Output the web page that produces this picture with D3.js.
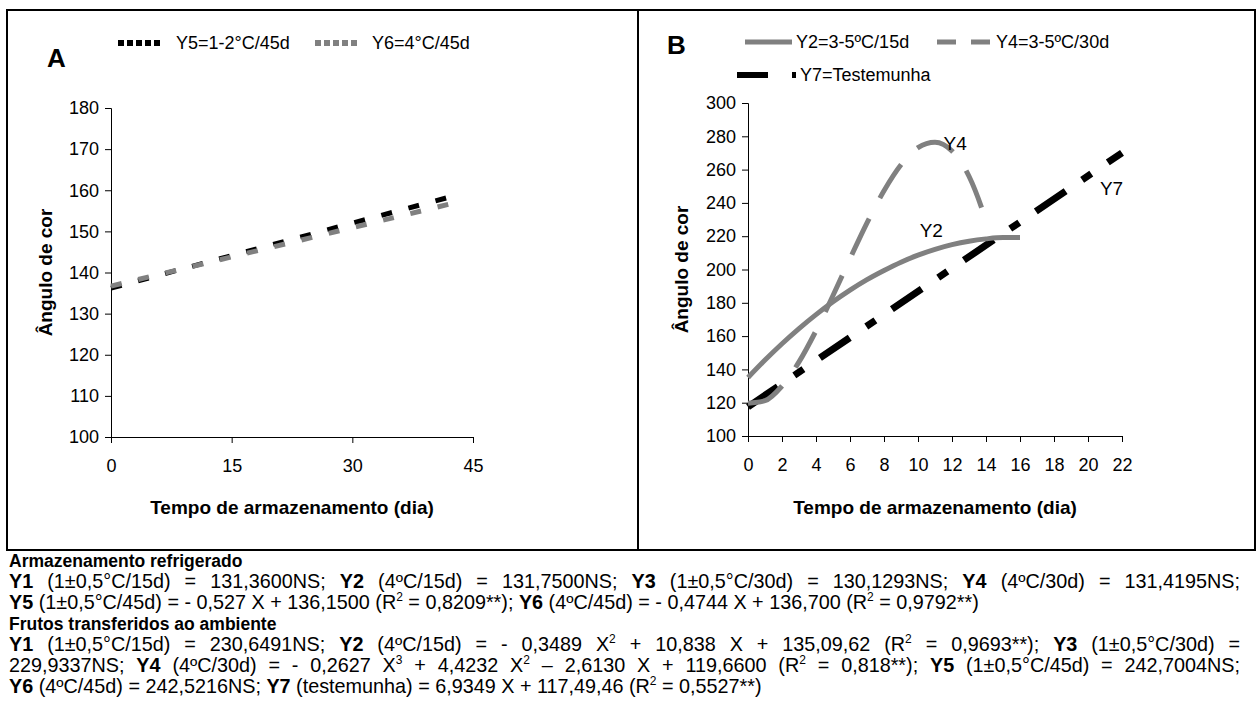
<!DOCTYPE html>
<html>
<head>
<meta charset="utf-8">
<script src="https://cdn.jsdelivr.net/npm/d3@7"></script>
<style>
  html, body { margin: 0; padding: 0; background: #fff; }
  svg text { font-family: "Liberation Sans", Arial, sans-serif; fill: #000; }
</style>
</head>
<body>
<svg id="chart" width="1257" height="724"></svg>
<script>
// ---------------- DATA ----------------
// Panel A (refrigerated storage, 45 d)
const daysA = [0, 15, 30, 42];
const y5Values = [136.2, 144.1, 152.0, 158.3];   // Y5=1-2°C/45d
const y6Values = [136.7, 143.8, 150.9, 156.6];   // Y6=4°C/45d
const xTicksA = [0, 15, 30, 45];
const yTicksA = [100, 110, 120, 130, 140, 150, 160, 170, 180];

// Panel B (fruits transferred to ambient)
const daysY2 = [0, 1, 2, 3, 4, 5, 6, 7, 8, 9, 10, 11, 12, 13, 14, 15, 16];
const y2Values = [135.1, 145.6, 155.4, 164.5, 172.9, 180.6, 187.6, 193.9, 199.4, 204.4, 208.6, 212.1, 214.9, 217.0, 218.4, 219.2, 219.2];
const daysY4 = [0, 1, 2, 3, 4, 5, 6, 7, 8, 9, 10, 11, 12, 13, 14, 14.1];
const y4Values = [119.7, 121.2, 130.0, 144.5, 163.2, 184.4, 206.5, 228.0, 247.3, 262.9, 273.2, 276.5, 271.2, 256.0, 229.2, 226.0];
const daysY7 = [0, 22];
const y7Values = [117.5, 270.1];
const xTicksB = [0, 2, 4, 6, 8, 10, 12, 14, 16, 18, 20, 22];
const yTicksB = [100, 120, 140, 160, 180, 200, 220, 240, 260, 280, 300];

// Footnote lines (bold runs marked with b:true)
const noteLines = [
  [{t: "Armazenamento refrigerado", b: true, h: true}],
  [{t: "Y1", b: true}, {t: " (1±0,5°C/15d) = 131,3600NS; "}, {t: "Y2", b: true}, {t: " (4ºC/15d) = 131,7500NS; "}, {t: "Y3", b: true}, {t: " (1±0,5°C/30d) = 130,1293NS; "}, {t: "Y4", b: true}, {t: " (4ºC/30d) = 131,4195NS;"}],
  [{t: "Y5", b: true}, {t: " (1±0,5°C/45d) = - 0,527 X + 136,1500 (R"}, {t: "2", sup: true}, {t: " = 0,8209**); "}, {t: "Y6", b: true}, {t: " (4ºC/45d) = - 0,4744 X + 136,700 (R"}, {t: "2", sup: true}, {t: " = 0,9792**)"}],
  [{t: "Frutos transferidos ao ambiente", b: true, h: true}],
  [{t: "Y1", b: true}, {t: " (1±0,5°C/15d) = 230,6491NS; "}, {t: "Y2", b: true}, {t: " (4ºC/15d) = - 0,3489 X"}, {t: "2", sup: true}, {t: " + 10,838 X + 135,09,62 (R"}, {t: "2", sup: true}, {t: " = 0,9693**); "}, {t: "Y3", b: true}, {t: " (1±0,5°C/30d) ="}],
  [{t: "229,9337NS; "}, {t: "Y4", b: true}, {t: " (4ºC/30d) = - 0,2627 X"}, {t: "3", sup: true}, {t: " + 4,4232 X"}, {t: "2", sup: true}, {t: " – 2,6130 X + 119,6600 (R"}, {t: "2", sup: true}, {t: " = 0,818**); "}, {t: "Y5", b: true}, {t: " (1±0,5°C/45d) = 242,7004NS;"}],
  [{t: "Y6", b: true}, {t: " (4ºC/45d) = 242,5216NS; "}, {t: "Y7", b: true}, {t: " (testemunha) = 6,9349 X + 117,49,46 (R"}, {t: "2", sup: true}, {t: " = 0,5527**)"}]
];
const justified = [false, true, false, false, true, true, false];

// ---------------- DRAW ----------------
const svg = d3.select("#chart");
const gray = "#808080";

// outer frame and divider
svg.append("rect").attr("x", 7).attr("y", 10).attr("width", 1248).attr("height", 540)
  .attr("fill", "none").attr("stroke", "#000").attr("stroke-width", 2);
svg.append("line").attr("x1", 638).attr("x2", 638).attr("y1", 10).attr("y2", 550)
  .attr("stroke", "#000").attr("stroke-width", 2);

function drawAxes(g, x, y, xTicks, yTicks, yTitleX) {
  const xAxis = d3.axisBottom(x).tickValues(xTicks).tickSize(6).tickPadding(16).tickFormat(d3.format("d"));
  const yAxis = d3.axisLeft(y).tickValues(yTicks).tickSize(6).tickPadding(6).tickFormat(d3.format("d"));
  const gx = g.append("g").attr("transform", `translate(0,${y.range()[0]})`).call(xAxis);
  const gy = g.append("g").attr("transform", `translate(${x.range()[0]},0)`).call(yAxis);
  [gx, gy].forEach(a => {
    a.select(".domain").attr("stroke", "#000").attr("stroke-width", 1);
    a.selectAll(".tick line").attr("stroke", "#000");
    a.selectAll(".tick text").attr("font-size", 18).attr("font-family", "Liberation Sans, Arial, sans-serif").attr("fill", "#000");
  });
  const xm = (x.range()[0] + x.range()[1]) / 2;
  g.append("text").attr("x", xm).attr("y", 514).attr("text-anchor", "middle")
    .attr("font-size", 19).attr("font-weight", "bold").text("Tempo de armazenamento (dia)");
  const ym = (y.range()[0] + y.range()[1]) / 2;
  g.append("text").attr("transform", `translate(${yTitleX},${ym}) rotate(-90)`)
    .attr("text-anchor", "middle").attr("font-size", 19).attr("font-weight", "bold").text("Ângulo de cor");
}

// ---------- Panel A ----------
const gA = svg.append("g");
const xA = d3.scaleLinear().domain([0, 45]).range([111, 473]);
const yA = d3.scaleLinear().domain([100, 180]).range([437, 108]);
drawAxes(gA, xA, yA, xTicksA, yTicksA, 52);

const lineA = d3.line().x(d => xA(d[0])).y(d => yA(d[1]));
gA.append("path").datum(daysA.map((d, i) => [d, y5Values[i]]))
  .attr("d", lineA).attr("fill", "none").attr("stroke", "#000").attr("stroke-width", 5)
  .attr("stroke-dasharray", "11,17");
gA.append("path").datum(daysA.map((d, i) => [d, y6Values[i]]))
  .attr("d", lineA).attr("fill", "none").attr("stroke", gray).attr("stroke-width", 5)
  .attr("stroke-dasharray", "11,17");

gA.append("text").attr("x", 47).attr("y", 67).attr("font-size", 26).attr("font-weight", "bold").text("A");
gA.append("line").attr("x1", 118).attr("x2", 163).attr("y1", 43).attr("y2", 43)
  .attr("stroke", "#000").attr("stroke-width", 6).attr("stroke-dasharray", "6,3");
gA.append("text").attr("x", 176).attr("y", 49).attr("font-size", 18).text("Y5=1-2°C/45d");
gA.append("line").attr("x1", 315).attr("x2", 358).attr("y1", 43).attr("y2", 43)
  .attr("stroke", gray).attr("stroke-width", 6).attr("stroke-dasharray", "6,3");
gA.append("text").attr("x", 372).attr("y", 49).attr("font-size", 18).text("Y6=4°C/45d");

// ---------- Panel B ----------
const gB = svg.append("g");
const xB = d3.scaleLinear().domain([0, 22]).range([748, 1122]);
const yB = d3.scaleLinear().domain([100, 300]).range([436, 103]);
drawAxes(gB, xB, yB, xTicksB, yTicksB, 688);

const lineB = d3.line().x(d => xB(d[0])).y(d => yB(d[1])).curve(d3.curveMonotoneX);
gB.append("path").datum(daysY7.map((d, i) => [d, y7Values[i]]))
  .attr("d", lineB).attr("fill", "none").attr("stroke", "#000").attr("stroke-width", 7)
  .attr("stroke-dasharray", "36,20,11,20");
gB.append("path").datum(daysY2.map((d, i) => [d, y2Values[i]]))
  .attr("d", lineB).attr("fill", "none").attr("stroke", gray).attr("stroke-width", 5);
gB.append("path").datum(daysY4.map((d, i) => [d, y4Values[i]]))
  .attr("d", lineB).attr("fill", "none").attr("stroke", gray).attr("stroke-width", 5)
  .attr("stroke-dasharray", "40,23");

// inline labels
gB.append("text").attr("x", xB(11.5)).attr("y", yB(276) + 7).attr("font-size", 19).text("Y4");
gB.append("text").attr("x", xB(10.1)).attr("y", yB(224) + 7).attr("font-size", 19).text("Y2");
gB.append("text").attr("x", xB(20.7)).attr("y", yB(249) + 7).attr("font-size", 19).text("Y7");

// legend B
gB.append("text").attr("x", 667).attr("y", 54).attr("font-size", 26).attr("font-weight", "bold").text("B");
gB.append("line").attr("x1", 745).attr("x2", 792).attr("y1", 42).attr("y2", 42)
  .attr("stroke", gray).attr("stroke-width", 5);
gB.append("text").attr("x", 796).attr("y", 48).attr("font-size", 18).text("Y2=3-5ºC/15d");
gB.append("line").attr("x1", 937).attr("x2", 990).attr("y1", 42).attr("y2", 42)
  .attr("stroke", gray).attr("stroke-width", 5).attr("stroke-dasharray", "19,15");
gB.append("text").attr("x", 996).attr("y", 48).attr("font-size", 18).text("Y4=3-5ºC/30d");
gB.append("line").attr("x1", 737).attr("x2", 796).attr("y1", 75).attr("y2", 75)
  .attr("stroke", "#000").attr("stroke-width", 6).attr("stroke-dasharray", "31,24,4,10");
gB.append("text").attr("x", 800).attr("y", 81).attr("font-size", 18).text("Y7=Testemunha");

// ---------- Footnote ----------
const noteX = 9, noteRight = 1240, noteY0 = 567, notePitch = 21;
noteLines.forEach((runs, i) => {
  const t = svg.append("text").attr("x", noteX).attr("y", noteY0 + i * notePitch)
    .attr("font-size", runs[0].h ? 17.5 : 19.8).attr("xml:space", "preserve");
  runs.forEach((r, k) => {
    const ts = t.append("tspan").text(r.t);
    if (r.b) ts.attr("font-weight", "bold");
    if (r.sup) ts.attr("font-size", 12).attr("dy", -8);
    else if (k > 0 && runs[k - 1].sup) ts.attr("dy", 8);
  });
  if (justified[i]) {
    const w = t.node().getComputedTextLength();
    const target = noteRight - noteX;
    const spaces = runs.map(r => r.sup ? 0 : (r.t.match(/ /g) || []).length).reduce((a, b) => a + b, 0);
    if (spaces > 0 && w < target) t.attr("word-spacing", (target - w) / spaces);
  }
});
</script>
</body>
</html>
